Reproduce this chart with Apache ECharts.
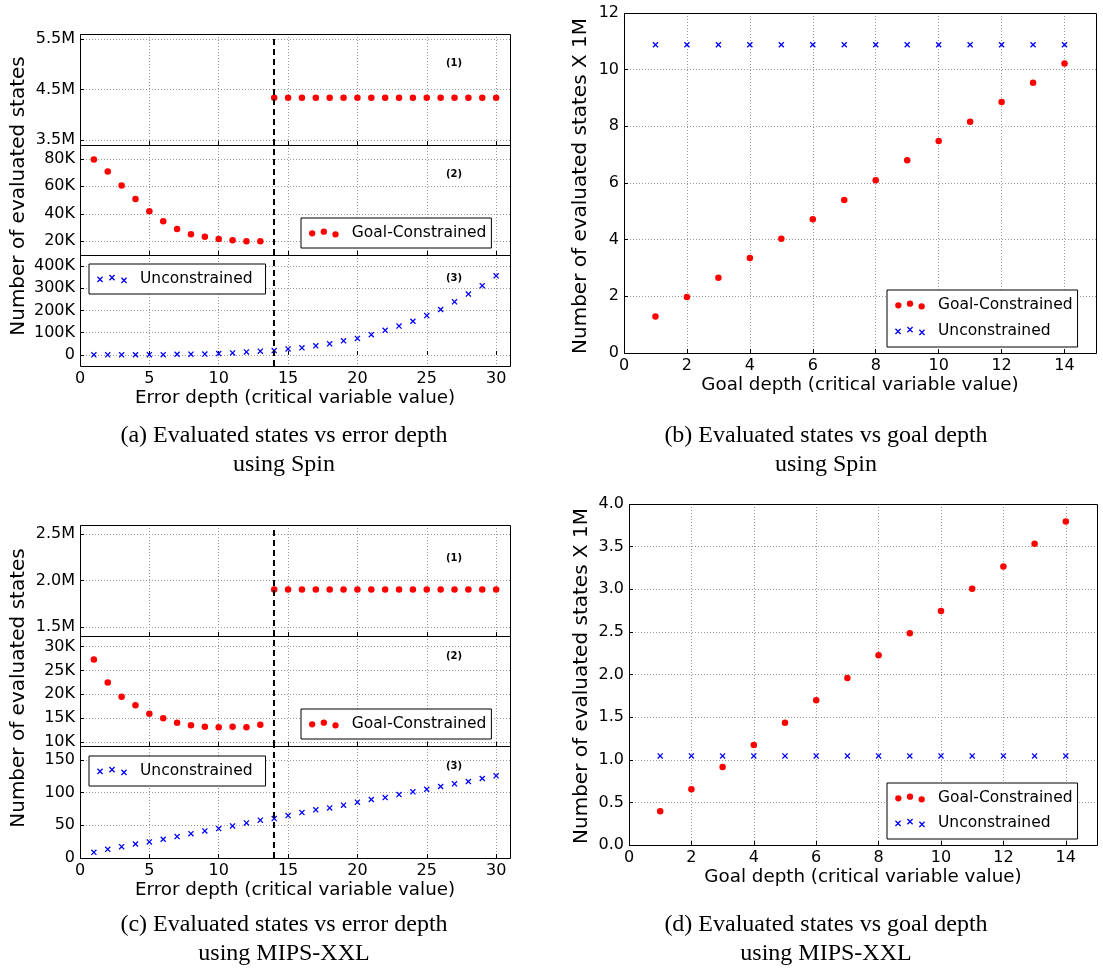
<!DOCTYPE html>
<html><head><meta charset="utf-8">
<script src="https://cdn.jsdelivr.net/npm/echarts@6/dist/echarts.min.js"></script>
<style>html,body{margin:0;padding:0;background:#fff}#c{width:1103px;height:975px}</style>
</head><body><div id="c"></div>
<script>
// ---------------- data ----------------
const errorDepth = [1,2,3,4,5,6,7,8,9,10,11,12,13,14,15,16,17,18,19,20,21,22,23,24,25,26,27,28,29,30];
const errorDepthBefore = [1,2,3,4,5,6,7,8,9,10,11,12,13];
const errorDepthAfter = [14,15,16,17,18,19,20,21,22,23,24,25,26,27,28,29,30];
const goalDepth = [1,2,3,4,5,6,7,8,9,10,11,12,13,14];
const boundaryDepth = 14;

// (a) Spin, evaluated states vs error depth
const spinGoalAfter = [4335000,4335000,4335000,4335000,4335000,4335000,4335000,4335000,4335000,4335000,4335000,4335000,4335000,4335000,4335000,4335000,4335000];
const spinGoalBefore = [79500,70800,60600,50800,41800,34500,29000,25100,23200,21700,20700,20000,20000];
const spinUnconstrained = [300,400,500,600,800,1200,3000,3200,3600,6000,9000,13600,16700,19700,27000,31800,40900,50000,63600,74000,90900,110600,130000,151500,177000,204500,239000,274000,312000,356000];

// (b) Spin, evaluated states (x 1M) vs goal depth
const spinGoalByGoal = [1.29,1.98,2.66,3.35,4.03,4.72,5.40,6.10,6.80,7.48,8.16,8.86,9.54,10.22];
const spinUnconByGoal = [10.88,10.88,10.88,10.88,10.88,10.88,10.88,10.88,10.88,10.88,10.88,10.88,10.88,10.88];

// (c) MIPS-XXL, evaluated states vs error depth
const mipsGoalAfter = [1903000,1903000,1903000,1903000,1903000,1903000,1903000,1903000,1903000,1903000,1903000,1903000,1903000,1903000,1903000,1903000,1903000];
const mipsGoalBefore = [27300,22500,19500,17700,15900,15000,14050,13500,13200,13100,13200,13100,13600];
const mipsUnconstrained = [8.7,13.3,17.3,21.4,24.5,28.6,32.7,37.2,41.3,44.9,49,53.6,57.7,60.2,64.8,69.4,73.5,76.5,80.6,85.2,89.3,92.3,96.9,101,105,109.2,113.2,116.8,121.4,125.5];

// (d) MIPS-XXL, evaluated states (x 1M) vs goal depth
const mipsGoalByGoal = [0.395,0.654,0.915,1.174,1.435,1.698,1.96,2.226,2.485,2.746,3.005,3.267,3.533,3.795];
const mipsUnconByGoal = [1.045,1.045,1.045,1.045,1.045,1.045,1.045,1.045,1.045,1.045,1.045,1.045,1.045,1.045];

// tick values
const errorDepthTicks = [0,5,10,15,20,25,30];
const goalDepthTicks = [0,2,4,6,8,10,12,14];
const spinTopTicks = [3500000,4500000,5500000];
const spinMidTicks = [20000,40000,60000,80000];
const spinLowTicks = [0,100000,200000,300000,400000];
const mipsTopTicks = [1500000,2000000,2500000];
const mipsMidTicks = [10000,15000,20000,25000,30000];
const mipsLowTicks = [0,50,100,150];
const spinGoalTicks = [0,2,4,6,8,10,12];
const mipsGoalTicks = [0,0.5,1,1.5,2,2.5,3,3.5,4];

// text
const legendGoal = 'Goal-Constrained';
const legendUncon = 'Unconstrained';
const yNameLeft = 'Number of evaluated states';
const yNameRight = 'Number of evaluated states X 1M';
const xNameError = 'Error depth (critical variable value)';
const xNameGoal = 'Goal depth (critical variable value)';
const captions = [
  ['(a) Evaluated states vs error depth', 'using Spin'],
  ['(b) Evaluated states vs goal depth', 'using Spin'],
  ['(c) Evaluated states vs error depth', 'using MIPS-XXL'],
  ['(d) Evaluated states vs goal depth', 'using MIPS-XXL']
];

// ---------------- layout / style ----------------
const SANS = 'DejaVu Sans';
const RED = '#ff0000', BLUE = '#0000ff';
const grids = [
  {left:80, top:34, width:430, height:111},   // a1
  {left:80, top:145, width:430, height:110},  // a2
  {left:80, top:255, width:430, height:111},  // a3
  {left:624, top:13, width:472, height:340},  // b
  {left:80, top:525, width:430, height:111},  // c1
  {left:80, top:636, width:430, height:110},  // c2
  {left:80, top:746, width:430, height:112},  // c3
  {left:629, top:504, width:468, height:341}  // d
];

function fmtKM(v){
  if (v === 0) return '0';
  if (Math.abs(v) >= 1e6) return (v/1e6).toFixed(1) + 'M';
  if (Math.abs(v) >= 1000) return Math.round(v/1000) + 'K';
  return String(v);
}
const gridLine = {show:true, lineStyle:{color:'#9a9a9a', type:[1,2], width:1}};
function xAxisDef(gi, ticks, max, showLabels, name){
  return {
    type:'value', gridIndex:gi, min:0, max:max,
    axisLine:{show:false},
    axisTick:{show:true, inside:true, length:4, customValues:ticks, lineStyle:{color:'#000'}},
    axisLabel:{show:showLabels, customValues:ticks, color:'#000', fontSize:16, fontFamily:SANS, margin:5},
    splitLine:gridLine,
    name: name || '', nameLocation:'middle', nameGap:23,
    nameTextStyle:{color:'#000', fontSize:18.3, fontFamily:SANS}
  };
}
function yAxisDef(gi, ticks, min, max, fmt){
  return {
    type:'value', gridIndex:gi, min:min, max:max,
    axisLine:{show:false},
    axisTick:{show:true, inside:true, length:4, customValues:ticks, lineStyle:{color:'#000'}},
    axisLabel:{show:true, customValues:ticks, color:'#000', fontSize:16, fontFamily:SANS, margin:5, formatter:fmt},
    splitLine:gridLine
  };
}
const fixed1 = v => v.toFixed(1);

// marker shapes
const crossSymbol = 'path://M0,1.5L1.5,0L10,8.5L8.5,10Z M8.5,0L10,1.5L1.5,10L0,8.5Z';
function crossAt(cx, cy, h, e){
  return 'M'+(cx-h)+','+(cy-h+e)+'L'+(cx-h+e)+','+(cy-h)+'L'+(cx+h)+','+(cy+h-e)+'L'+(cx+h-e)+','+(cy+h)+'Z'+
         'M'+(cx+h-e)+','+(cy-h)+'L'+(cx+h)+','+(cy-h+e)+'L'+(cx-h+e)+','+(cy+h)+'L'+(cx-h)+','+(cy+h-e)+'Z';
}
function dotAt(cx, cy, r){
  return 'M'+(cx-r)+','+cy+'a'+r+','+r+' 0 1,0 '+(2*r)+',0a'+r+','+r+' 0 1,0 '+(-2*r)+',0Z';
}
const dotsIcon = 'path://' + dotAt(3.2,5,3.2) + dotAt(15,3.3,3.2) + dotAt(26.8,6,3.2);
const crossIcon = 'path://' + crossAt(3.2,5,3,0.9) + crossAt(15,3.3,3,0.9) + crossAt(26.8,6,3,0.9);

const pairs = (xs, ys) => xs.map((x,i) => [x, ys[i]]);
const dashMark = {silent:true, symbol:['none','none'], label:{show:false}, animation:false,
  lineStyle:{color:'#000', type:[6,4], width:2}, data:[{xAxis:boundaryDepth}]};

function goalSeries(xi, data, withMark){
  const s = {type:'scatter', name:legendGoal, xAxisIndex:xi, yAxisIndex:xi, data:data,
    symbol:'circle', symbolSize:6.5, itemStyle:{color:RED, opacity:1}, z:3};
  if (withMark) s.markLine = dashMark;
  return s;
}
function unconSeries(xi, data, withMark){
  const s = {type:'scatter', name:legendUncon, xAxisIndex:xi, yAxisIndex:xi, data:data,
    symbol:crossSymbol, symbolSize:6, itemStyle:{color:BLUE, opacity:1}, z:3};
  if (withMark) s.markLine = dashMark;
  return s;
}

const legendCommon = {
  itemWidth:30, itemHeight:9, borderColor:'#000', borderWidth:1, borderRadius:0,
  backgroundColor:'#fff', selectedMode:false, orient:'vertical',
  textStyle:{fontSize:15.5, fontFamily:SANS, color:'#000', padding:[0,0,0,8]}
};
const legGoal = {name:legendGoal, icon:dotsIcon};
const legUncon = {name:legendUncon, icon:crossIcon};

// graphic: frames, y names, subplot tags, captions
const graphics = [];
grids.forEach(g => {
  graphics.push({type:'rect', silent:true, z:100,
    shape:{x:g.left+0.5, y:g.top+0.5, width:g.width, height:g.height},
    style:{fill:'none', stroke:'#000', lineWidth:1}});
});
function vText(text, x, y){
  graphics.push({type:'text', silent:true, z:100, x:x, y:y, rotation:Math.PI/2,
    style:{text:text, fill:'#000', font:'20px "DejaVu Sans"', textAlign:'center', textVerticalAlign:'middle'}});
}
function tText(text, x, y, font){
  graphics.push({type:'text', silent:true, z:100, x:x, y:y,
    style:{text:text, fill:'#000', font:font, textAlign:'center', textVerticalAlign:'middle'}});
}
vText(yNameLeft, 19, 196);
vText(yNameLeft, 19, 688);
vText(yNameRight, 581, 186);
vText(yNameRight, 582, 676);
const tagFont = 'bold 10px "DejaVu Sans"';
tText('(1)', 454, 63, tagFont); tText('(2)', 454, 174, tagFont); tText('(3)', 454, 278, tagFont);
tText('(1)', 454, 558, tagFont); tText('(2)', 454, 656, tagFont); tText('(3)', 454, 766, tagFont);
const capFont = '24px "Liberation Serif"';
tText(captions[0][0], 284, 436, capFont); tText(captions[0][1], 284, 465, capFont);
tText(captions[1][0], 826, 436, capFont); tText(captions[1][1], 826, 465, capFont);
tText(captions[2][0], 284, 925, capFont); tText(captions[2][1], 284, 954, capFont);
tText(captions[3][0], 826, 925, capFont); tText(captions[3][1], 826, 954, capFont);

const option = {
  animation:false,
  backgroundColor:'#fff',
  grid: grids.map(g => Object.assign({containLabel:false, outerBoundsMode:'none', show:false}, g)),
  xAxis: [
    xAxisDef(0, errorDepthTicks, 31, false),
    xAxisDef(1, errorDepthTicks, 31, false),
    xAxisDef(2, errorDepthTicks, 31, true, xNameError),
    xAxisDef(3, goalDepthTicks, 15, true, xNameGoal),
    xAxisDef(4, errorDepthTicks, 31, false),
    xAxisDef(5, errorDepthTicks, 31, false),
    xAxisDef(6, errorDepthTicks, 31, true, xNameError),
    xAxisDef(7, goalDepthTicks, 15, true, xNameGoal)
  ],
  yAxis: [
    yAxisDef(0, spinTopTicks, 3400000, 5600000, fmtKM),
    yAxisDef(1, spinMidTicks, 10000, 90000, fmtKM),
    yAxisDef(2, spinLowTicks, -50000, 450000, fmtKM),
    yAxisDef(3, spinGoalTicks, 0, 12),
    yAxisDef(4, mipsTopTicks, 1400000, 2600000, fmtKM),
    yAxisDef(5, mipsMidTicks, 9150, 32250, fmtKM),
    yAxisDef(6, mipsLowTicks, 0, 171, fmtKM),
    yAxisDef(7, mipsGoalTicks, 0, 4, fixed1)
  ],
  legend: [
    Object.assign({}, legendCommon, {left:301, top:218, padding:[7,5,7,8], data:[legGoal]}),
    Object.assign({}, legendCommon, {left:89, top:264, padding:[7,13,7,8], data:[legUncon]}),
    Object.assign({}, legendCommon, {left:887, top:290, padding:[7,5,8,8], itemGap:10, data:[legGoal, legUncon]}),
    Object.assign({}, legendCommon, {left:301, top:709, padding:[7,5,7,8], data:[legGoal]}),
    Object.assign({}, legendCommon, {left:89, top:756, padding:[7,13,7,8], data:[legUncon]}),
    Object.assign({}, legendCommon, {left:887, top:783, padding:[7,5,8,8], itemGap:9, data:[legGoal, legUncon]})
  ],
  graphic: {elements: graphics},
  series: [
    goalSeries(0, pairs(errorDepthAfter, spinGoalAfter), true),
    goalSeries(1, pairs(errorDepthBefore, spinGoalBefore), true),
    unconSeries(2, pairs(errorDepth, spinUnconstrained), true),
    goalSeries(3, pairs(goalDepth, spinGoalByGoal), false),
    unconSeries(3, pairs(goalDepth, spinUnconByGoal), false),
    goalSeries(4, pairs(errorDepthAfter, mipsGoalAfter), true),
    goalSeries(5, pairs(errorDepthBefore, mipsGoalBefore), true),
    unconSeries(6, pairs(errorDepth, mipsUnconstrained), true),
    goalSeries(7, pairs(goalDepth, mipsGoalByGoal), false),
    unconSeries(7, pairs(goalDepth, mipsUnconByGoal), false)
  ]
};
const chart = echarts.init(document.getElementById('c'), null, {renderer:'canvas'});
chart.setOption(option);
</script>
</body></html>
